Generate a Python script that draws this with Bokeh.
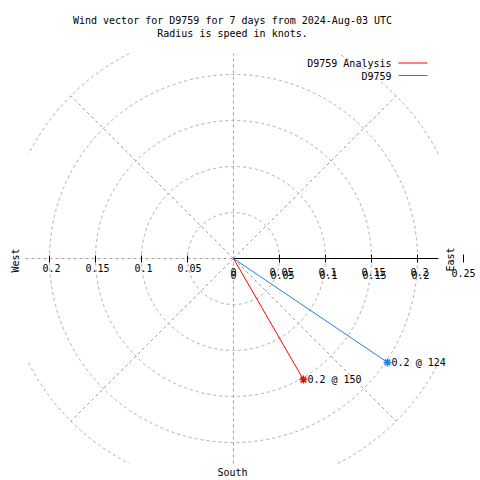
import numpy as np
from bokeh.plotting import figure
from bokeh.models import Range1d
from bokeh.core.properties import value
from bokeh.embed import file_html
from bokeh.resources import INLINE

# ---------------- data ----------------
title_lines = ["Wind vector for D9759 for 7 days from 2024-Aug-03 UTC",
               "Radius is speed in knots."]
series_names = ["D9759 Analysis", "D9759"]
series_colors = ["#ff0000", "#1e82e6"]
speeds = [0.152, 0.202]          # knots
directions = [150, 124]          # degrees (clockwise from north)
point_labels = ["0.2 @ 150", "0.2 @ 124"]
ring_values = [0.05, 0.1, 0.15, 0.2, 0.25]
spoke_angles = [45, 135, 225, 315]
tick_values = [0.05, 0.1, 0.15, 0.2]
tick_labels = ["0.05", "0.1", "0.15", "0.2"]
outer_value = 0.25
outer_label = "0.25"
box_half = 0.2228                # plotting box half-width (knots)

# ---------------- layout ----------------
W = H = 480
K = 920.0                         # px per knot
CX, CY = 233, 258                 # origin in figure pixels
FONT = value("DejaVu Sans Mono")
FS = "10px"
GRID = "#a0a0a0"


def P(xp, yp):
    """picture pixel -> data coordinates"""
    return (xp - CX) / K, (CY - yp) / K


px = 1.0 / K

p = figure(width=W, height=H, output_backend="svg", toolbar_location=None,
           x_range=Range1d(-CX / K, (W - CX) / K),
           y_range=Range1d(-(H - CY) / K, CY / K),
           x_axis_type=None, y_axis_type=None, min_border=0)
p.xgrid.visible = False
p.ygrid.visible = False
p.outline_line_color = None
p.background_fill_color = "white"
p.border_fill_color = "white"

# rings (clipped to box)
th = np.linspace(0, 2 * np.pi, 2881)
for r in ring_values:
    xs = r * np.cos(th)
    ys = r * np.sin(th)
    mask = (np.abs(xs) > box_half) | (np.abs(ys) > box_half)
    xs = np.where(mask, np.nan, xs)
    ys = np.where(mask, np.nan, ys)
    p.line(xs, ys, line_color=GRID, line_width=1, line_dash="3 3")

# spokes
for a in spoke_angles:
    ar = np.radians(a)
    p.line([0, outer_value * np.sin(ar)], [0, outer_value * np.cos(ar)],
           line_color=GRID, line_width=1, line_dash="3 3")

# vertical axis & west half of horizontal axis (dashed)
p.line([0, 0], [-box_half, box_half], line_color=GRID, line_dash="3 3")
p.line([-box_half - 3 * px, 0], [0, 0], line_color=GRID, line_dash="3 3")

# east axis (solid)
p.line([0, box_half], [0, 0], line_color="black", line_width=1)
right_ticks = tick_values + [outer_value]
p.segment(x0=right_ticks, y0=[-4 * px] * len(right_ticks),
          x1=right_ticks, y1=[4 * px] * len(right_ticks),
          line_color="black", line_width=1)
left_ticks = [-t for t in tick_values]
p.segment(x0=left_ticks, y0=[-4 * px] * len(left_ticks),
          x1=left_ticks, y1=[3 * px] * len(left_ticks),
          line_color="black", line_width=1)

# tick labels
p.text(x=[t + 2 * px for t in left_ticks], y=[-9 * px] * len(left_ticks),
       text=tick_labels, text_font=FONT, text_font_size=FS,
       text_align="center", text_baseline="middle", text_color="black")
for dx, dy in [(2, -13), (3, -16)]:
    p.text(x=[0] + [t + dx * px for t in tick_values],
           y=[dy * px] * (len(tick_values) + 1),
           text=["0"] + tick_labels, text_font=FONT, text_font_size=FS,
           text_align="center", text_baseline="middle", text_color="black")
p.text(x=[outer_value], y=[-14 * px], text=[outer_label], text_font=FONT,
       text_font_size=FS, text_align="center", text_baseline="middle",
       text_color="black")

# compass labels
ex, ey = P(450, 259)
p.text(x=[ex], y=[ey], text=["East"], angle=np.pi / 2, text_font=FONT,
       text_font_size=FS, text_align="center", text_baseline="middle")
wx, wy = P(15, 260)
p.text(x=[wx], y=[wy], text=["West"], angle=np.pi / 2, text_font=FONT,
       text_font_size=FS, text_align="center", text_baseline="middle")
sx, sy = P(232, 472)
p.text(x=[sx], y=[sy], text=["South"], text_font=FONT,
       text_font_size=FS, text_align="center", text_baseline="middle")

# vectors
ends_x = [s * np.sin(np.radians(d)) for s, d in zip(speeds, directions)]
ends_y = [s * np.cos(np.radians(d)) for s, d in zip(speeds, directions)]
p.segment(x0=[0, 0], y0=[0, 0], x1=ends_x, y1=ends_y,
          line_color=series_colors, line_width=1)
p.scatter(ends_x, ends_y, marker="asterisk", size=8,
          line_color=series_colors, line_width=1.5)
p.text(x=ends_x, y=ends_y, text=point_labels, x_offset=4, text_font=FONT,
       text_font_size=FS, text_align="left", text_baseline="middle",
       text_color="black")

# title
for i, line in enumerate(title_lines):
    tx, ty = P(232, 20 + 13 * i)
    p.text(x=[tx], y=[ty], text=[line], text_font=FONT, text_font_size=FS,
           text_align="center", text_baseline="middle", text_color="black")

# legend
for i, (name, col) in enumerate(zip(series_names, series_colors)):
    lx, ly = P(391, 63 + 12.5 * i)
    p.text(x=[lx], y=[ly], text=[name], text_font=FONT, text_font_size=FS,
           text_align="right", text_baseline="middle", text_color="black")
    a0, b0 = P(398, 62.5 + 12.5 * i)
    a1, _ = P(427, 62.5 + 12.5 * i)
    p.line([a0, a1], [b0, b0], line_color=col, line_width=1.2)

open("out.html", "w").write(file_html(p, INLINE))
